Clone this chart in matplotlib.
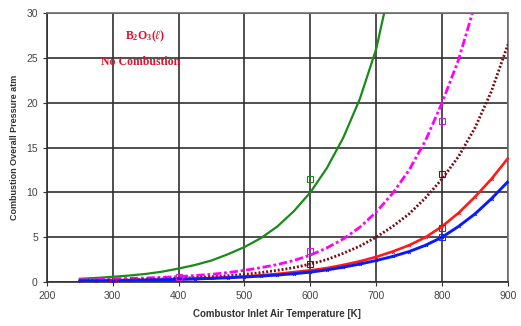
import matplotlib
matplotlib.use("Agg")
import matplotlib.pyplot as plt
import numpy as np

plt.rcParams["mathtext.fontset"] = "custom"
plt.rcParams["mathtext.rm"] = "Liberation Serif:bold"
plt.rcParams["mathtext.it"] = "Liberation Serif:italic:bold"
plt.rcParams["mathtext.bf"] = "Liberation Serif:bold"

# temperatures [K]
T = [250, 275, 300, 325, 350, 375, 400, 425, 450, 475, 500, 525, 550, 575,
     600, 625, 650, 675, 700, 725, 750, 775, 800, 825, 850, 875, 900]

green_T = [250, 275, 300, 325, 350, 375, 400, 425, 450, 475, 500, 525, 550, 575,
           600, 625, 650, 675, 700, 712]
green_p = [0.36, 0.45, 0.58, 0.72, 0.9, 1.15, 1.5, 1.9, 2.4, 3.1, 3.9, 4.9, 6.2, 7.9,
           10.0, 12.7, 16.1, 20.4, 26.0, 30.0]

magenta_T = [250, 275, 300, 325, 350, 375, 400, 425, 450, 475, 500, 525, 550, 575,
             600, 625, 650, 675, 700, 725, 750, 775, 800, 825, 846]
magenta_p = [0.25, 0.3, 0.35, 0.4, 0.45, 0.52, 0.6, 0.72, 0.86, 1.05, 1.3, 1.6, 1.95, 2.4,
             3.0, 3.8, 4.8, 6.1, 7.8, 9.9, 12.5, 15.8, 20.0, 24.8, 30.0]

brown_p = [0.15, 0.17, 0.2, 0.23, 0.28, 0.33, 0.4, 0.48, 0.58, 0.7, 0.85, 1.05, 1.3, 1.6,
           2.0, 2.5, 3.2, 4.0, 5.0, 6.2, 7.6, 9.4, 11.5, 14.0, 17.2, 21.3, 26.5]
red_p = [0.12, 0.14, 0.16, 0.19, 0.22, 0.26, 0.31, 0.37, 0.44, 0.52, 0.62, 0.75, 0.9, 1.1,
         1.3, 1.55, 1.9, 2.3, 2.8, 3.4, 4.1, 5.0, 6.2, 7.7, 9.5, 11.5, 13.8]
blue_p = [0.11, 0.13, 0.15, 0.18, 0.21, 0.25, 0.29, 0.34, 0.4, 0.47, 0.56, 0.66, 0.78, 0.92,
          1.1, 1.35, 1.65, 2.0, 2.4, 2.85, 3.4, 4.1, 5.0, 6.2, 7.6, 9.3, 11.2]

# measured points (open squares)
pts_green = ([600], [11.5])
pts_magenta = ([300, 400, 600, 800], [0.0, 0.6, 3.5, 18.0])
pts_brown = ([600, 800], [2.0, 12.0])
pts_red = ([300, 800], [0.0, 6.0])
pts_blue = ([800], [5.0])

fig = plt.figure(figsize=(5.21, 3.26), dpi=100)
ax = fig.add_axes([0.090, 0.135, 0.885, 0.825])

ax.plot(green_T, green_p, color="#1a8a1a", lw=1.6, zorder=3)
ax.plot(magenta_T, magenta_p, color="#ff00ff", lw=2.0, ls=(0, (3, 1, 1, 1)), zorder=3)
ax.plot(T, brown_p, color="#7a0a14", lw=2.0, ls=(0, (0.7, 0.7)), zorder=3)
ax.plot(T, red_p, color="#ff1a1a", lw=1.9, marker="x", ms=2, mew=0.7, zorder=3)
ax.plot(T, blue_p, color="#0a1aff", lw=2.1, marker="x", ms=2, mew=0.7, zorder=4)

sq = dict(marker="s", ls="none", ms=4.5, mfc="none", mew=0.8, zorder=5)
ax.plot(*pts_green, mec="#1a8a1a", **sq)
ax.plot(*pts_magenta, mec="#d020d0", **sq)
ax.plot(*pts_brown, mec="#7a0a14", **sq)
ax.plot(*pts_red, mec="#c01030", **sq)
ax.plot(*pts_blue, mec="#2030c0", **sq)

ax.set_xlim(200, 900)
ax.set_ylim(0, 30)
ax.set_xticks(np.arange(200, 901, 100))
ax.set_yticks(np.arange(0, 31, 5))
ax.grid(True, color="#303030", lw=1.2)
ax.set_axisbelow(True)
for s in ax.spines.values():
    s.set_color("#707070")
    s.set_linewidth(1.2)
ax.spines["left"].set_color("#303030")
ax.spines["bottom"].set_color("#303030")
ax.tick_params(labelsize=7.5, length=3, colors="#303030", labelcolor="#444444")
for lab in ax.get_xticklabels() + ax.get_yticklabels():
    lab.set_family("Liberation Sans")

ax.set_xlabel("Combustor Inlet Air Temperature [K]", fontsize=7, fontweight="bold",
              family="Liberation Sans", color="#333333", labelpad=6)
ax.set_ylabel("Combustion Overall Pressure atm", fontsize=6.5, fontweight="bold",
              family="Liberation Sans", color="#333333", labelpad=5)

ax.text(350, 27.4, r"$\mathrm{B_2O_3(}\ell\mathrm{)}$", color="#e0102a", fontsize=8.5,
        ha="center", va="center")
ax.text(342, 24.5, "No Combustion", color="#e0102a", fontsize=8.5, fontweight="bold",
        family="Liberation Serif", ha="center", va="center")

fig.savefig("out.png", dpi=100)
